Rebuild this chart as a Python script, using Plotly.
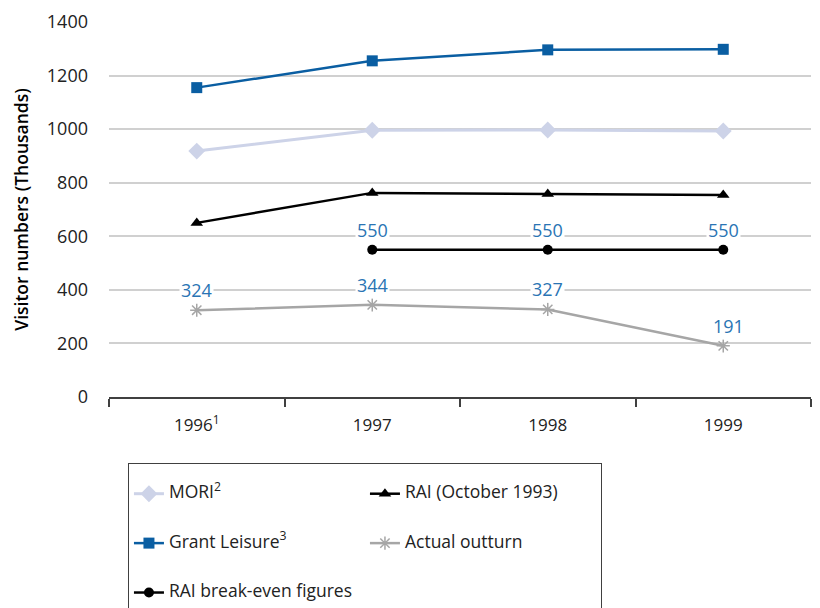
import plotly.graph_objects as go

years = ["1996", "1997", "1998", "1999"]
year_labels = ["1996<sup>1</sup>", "1997", "1998", "1999"]

mori = [918, 996, 997, 993]
grant_leisure = [1155, 1255, 1296, 1298]
rai_oct_1993 = [650, 762, 758, 754]
actual_outturn = [324, 344, 327, 191]
break_even_years = ["1997", "1998", "1999"]
break_even = [550, 550, 550]

y_ticks = [0, 200, 400, 600, 800, 1000, 1200, 1400]

FONT = "Open Sans"
LABEL_BLUE = "#2A74B4"

def lg(name):
    return "\u00a0<br><span style='font-size:17.5px'>" + name + "</span><br>\u00a0"

fig = go.Figure()
fig.add_trace(go.Scatter(x=years, y=mori, mode="lines+markers", name=lg("MORI<sup>2</sup>"),
                         line=dict(color="#CDD3E8", width=3),
                         marker=dict(symbol="diamond", size=13, color="#CDD3E8")))
fig.add_trace(go.Scatter(x=years, y=rai_oct_1993, mode="lines+markers", name=lg("RAI (October 1993)"),
                         line=dict(color="#000000", width=2.5),
                         marker=dict(symbol="triangle-up", size=11, color="#000000")))
fig.add_trace(go.Scatter(x=years, y=grant_leisure, mode="lines+markers", name=lg("Grant Leisure<sup>3</sup>"),
                         line=dict(color="#0A5EA2", width=2.5),
                         marker=dict(symbol="square", size=11, color="#0A5EA2")))
fig.add_trace(go.Scatter(x=years, y=actual_outturn, mode="lines+markers", name=lg("Actual outturn"),
                         line=dict(color="#A6A6A6", width=2.5),
                         marker=dict(symbol="asterisk-open", size=11, color="#A6A6A6",
                                     line=dict(color="#A6A6A6", width=1.5))))
fig.add_trace(go.Scatter(x=break_even_years, y=break_even, mode="lines+markers", name=lg("RAI break-even figures"),
                         line=dict(color="#000000", width=2.5),
                         marker=dict(symbol="circle", size=10, color="#000000")))

annotations = []
for xv, yv in zip(break_even_years, break_even):
    annotations.append(dict(x=years.index(xv), y=yv, text=str(yv), showarrow=False, yshift=20,
                            font=dict(family=FONT, size=18, color=LABEL_BLUE), bgcolor="white"))
for xv, yv in zip(years, actual_outturn):
    annotations.append(dict(x=years.index(xv), y=yv, text=str(yv), showarrow=False, yshift=20,
                            xshift=5 if yv < 200 else 0,
                            font=dict(family=FONT, size=18, color=LABEL_BLUE), bgcolor="white"))

fig.update_layout(
    width=820, height=608,
    margin=dict(l=101, r=17, t=14, b=219, autoexpand=False),
    paper_bgcolor="white", plot_bgcolor="white",
    font=dict(family=FONT, size=16, color="#222222"),
    showlegend=True,
    legend=dict(orientation="h", x=0.027, xanchor="left", y=-0.176, yanchor="top",
                bordercolor="#404040", borderwidth=1, bgcolor="white",
                entrywidth=191, traceorder="normal",
                font=dict(family=FONT, size=11.9, color="#222222")),
    annotations=annotations,
)
fig.update_xaxes(type="category", categoryorder="array", categoryarray=years,
                 range=[-0.5, 3.5], autorange=False,
                 tickvals=years, ticktext=year_labels,
                 showline=True, linecolor="#404040", linewidth=2,
                 ticks="outside", tickson="boundaries", ticklen=8, tickcolor="#404040", tickwidth=1.5,
                 ticklabelstandoff=12,
                 showgrid=False, tickfont=dict(family=FONT, size=17, color="#222222"))
fig.update_yaxes(range=[0, 1400], autorange=False, tickvals=y_ticks, showgrid=True,
                 gridcolor="#D0D0D0", gridwidth=1.5,
                 zeroline=False, showline=False, ticks="", ticklabelstandoff=20,
                 tickfont=dict(family=FONT, size=18, color="#222222"),
                 title=dict(text="Visitor numbers (Thousands)", standoff=13,
                            font=dict(family=FONT, size=17.5, color="#000000", weight=600)))

fig.write_html("out.html")
